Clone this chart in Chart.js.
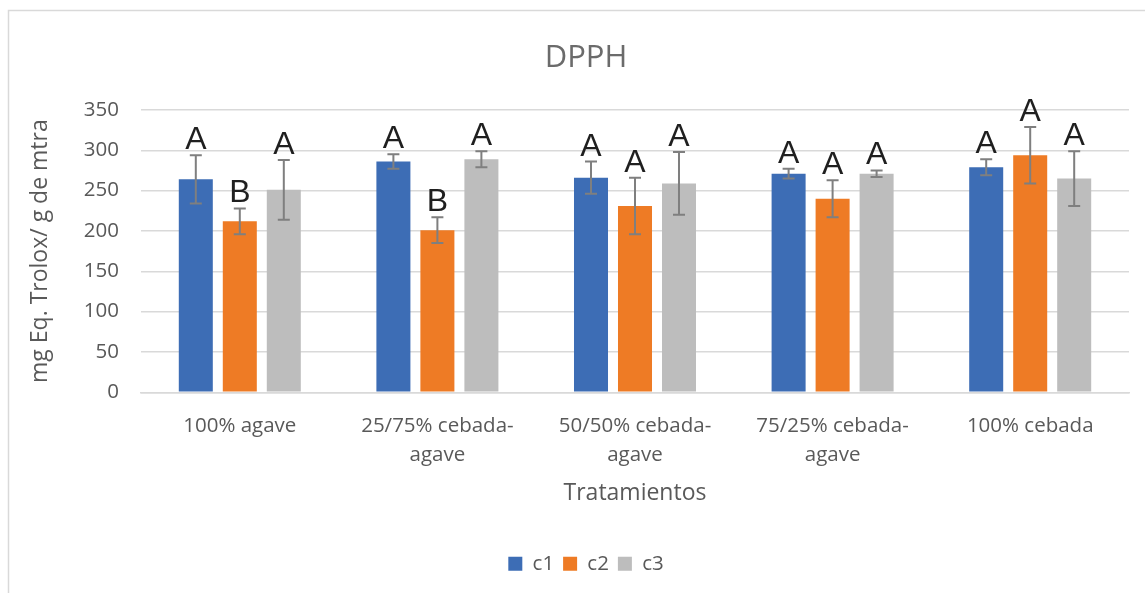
<!DOCTYPE html>
<html>
<head>
<meta charset="utf-8">
<script src="https://cdn.jsdelivr.net/npm/chart.js@4"></script>
<style>
html,body{margin:0;padding:0;background:#fff;overflow:hidden;}
#wrap{width:1172px;height:593px;position:relative;}
</style>
</head>
<body>
<div id="wrap"><canvas id="c"></canvas></div>
<script>
const categories = ['100% agave', ['25/75% cebada-','agave'], ['50/50% cebada-','agave'], ['75/25% cebada-','agave'], '100% cebada'];
const seriesNames = ['c1','c2','c3'];
const c1Values = [264, 286, 266, 271, 279];
const c2Values = [212, 201, 231, 240, 294];
const c3Values = [251, 289, 259, 271, 265];
const c1Errors = [30, 9, 20, 6, 10];
const c2Errors = [16, 16, 35, 23, 35];
const c3Errors = [37, 10, 39, 4, 34];
const c1Letters = ['A','A','A','A','A'];
const c2Letters = ['B','B','A','A','A'];
const c3Letters = ['A','A','A','A','A'];
const yTicks = [0, 50, 100, 150, 200, 250, 300, 350];

const colors = ['#3D6DB5', '#EE7B25', '#BDBDBD'];
const FONT = '"Open Sans", "Noto Sans", sans-serif';

const frame = {
  id: 'frame',
  beforeDraw(chart) {
    const ctx = chart.ctx;
    ctx.save();
    ctx.strokeStyle = '#d9d9d9';
    ctx.lineWidth = 1.5;
    ctx.beginPath();
    ctx.moveTo(8.5, 600);
    ctx.lineTo(8.5, 10.5);
    ctx.lineTo(chart.width + 5, 10.5);
    ctx.stroke();
    ctx.restore();
  }
};

const errorBars = {
  id: 'errorBars',
  afterDatasetsDraw(chart) {
    const ctx = chart.ctx;
    const yScale = chart.scales.y;
    ctx.save();
    chart.data.datasets.forEach((ds, di) => {
      const meta = chart.getDatasetMeta(di);
      meta.data.forEach((bar, i) => {
        const v = ds.data[i], e = ds.errors[i];
        const yTop = yScale.getPixelForValue(v + e);
        const yBot = yScale.getPixelForValue(v - e);
        const x = bar.x;
        ctx.strokeStyle = '#7f7f7f';
        ctx.lineWidth = 2;
        ctx.beginPath();
        ctx.moveTo(x, yTop); ctx.lineTo(x, yBot);
        ctx.moveTo(x - 6, yTop); ctx.lineTo(x + 6, yTop);
        ctx.moveTo(x - 6, yBot); ctx.lineTo(x + 6, yBot);
        ctx.stroke();
        ctx.fillStyle = '#1f1f1f';
        ctx.font = '32px "Liberation Sans", Arial, sans-serif';
        ctx.textAlign = 'center';
        ctx.textBaseline = 'alphabetic';
        ctx.fillText(ds.letters[i], x, yTop - 6);
      });
    });
    ctx.restore();
  }
};

new Chart(document.getElementById('c'), {
  type: 'bar',
  data: {
    labels: categories,
    datasets: [
      {label: seriesNames[0], data: c1Values, errors: c1Errors, letters: c1Letters, backgroundColor: colors[0]},
      {label: seriesNames[1], data: c2Values, errors: c2Errors, letters: c2Letters, backgroundColor: colors[1]},
      {label: seriesNames[2], data: c3Values, errors: c3Errors, letters: c3Letters, backgroundColor: colors[2]}
    ]
  },
  options: {
    responsive: true,
    maintainAspectRatio: false,
    animation: false,
    devicePixelRatio: 1,
    categoryPercentage: 0.668,
    barPercentage: 0.773,
    layout: {padding: {left: 0, right: 0, top: 0, bottom: 9}},
    plugins: {
      title: {
        display: true,
        text: 'DPPH',
        color: '#6b6b6b',
        font: {family: FONT, size: 31, weight: 'normal'},
        padding: {top: 39.4, bottom: 33.4}
      },
      legend: {
        position: 'bottom',
        labels: {
          boxWidth: 14, boxHeight: 14,
          padding: 9,
          color: '#595959',
          font: {family: FONT, size: 20.5}
        }
      },
      tooltip: {enabled: false}
    },
    scales: {
      x: {
        grid: {display: false, drawTicks: false},
        border: {display: true, color: '#d9d9d9', width: 1.5},
        ticks: {
          color: '#595959',
          font: {family: FONT, size: 20.5, lineHeight: 1.38},
          padding: 20,
          maxRotation: 0, minRotation: 0,
          autoSkip: false
        },
        title: {
          display: true,
          text: 'Tratamientos',
          color: '#595959',
          font: {family: FONT, size: 23},
          padding: {top: 0, bottom: 37.5}
        },
        afterFit(s) { s.height = 152.25; }
      },
      y: {
        min: 0, max: 350,
        afterBuildTicks(s) { s.ticks = yTicks.map(v => ({value: v})); },
        grid: {color: '#d9d9d9', lineWidth: 1.5, drawTicks: false},
        border: {display: false},
        ticks: {
          color: '#595959',
          font: {family: FONT, size: 20.5},
          padding: 22
        },
        title: {
          display: true,
          text: 'mg Eq. Trolox/ g de mtra',
          color: '#595959',
          font: {family: FONT, size: 23},
          padding: {top: 26.2, bottom: 0}
        },
        afterFit(s) { s.width = 141; }
      },
      yR: {
        type: 'linear',
        position: 'right',
        display: true,
        grid: {display: false, drawTicks: false},
        border: {display: false},
        ticks: {display: false},
        afterFit(s) { s.width = 43; }
      }
    }
  },
  plugins: [frame, errorBars]
});
</script>
</body>
</html>
